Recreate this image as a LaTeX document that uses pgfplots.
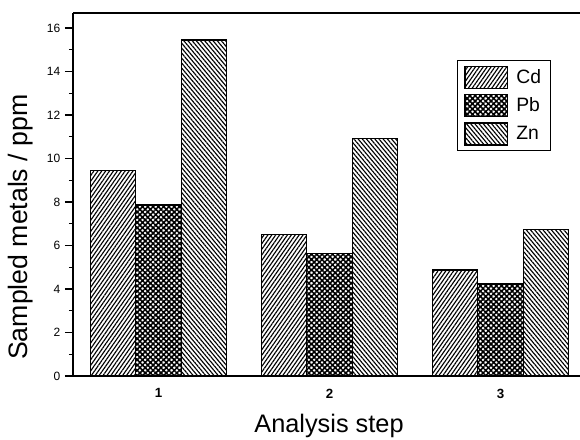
\documentclass[border=0pt]{standalone}
\usepackage{fontspec}
\setmainfont{Liberation Sans}
\usepackage{pgfplots}
\pgfplotsset{compat=1.18}
\usetikzlibrary{patterns.meta}
\begin{document}
\begin{tikzpicture}
\useasboundingbox (-54.75pt,-47.25pt) rectangle (380.25pt,282pt);
\clip (-54.75pt,-47.25pt) rectangle (380.25pt,282pt);
\begin{axis}[
  at={(0,0)}, anchor=south west,
  scale only axis, width=400pt, height=272.25pt,
  xmin=0.5, xmax=3.619, ymin=0, ymax=16.69,
  axis lines*=left,
  axis line style={line width=1.3pt, black},
  ybar=0pt, bar width=0.266,
  /pgf/number format/assume math mode=true,
  ytick={0,2,...,16}, minor y tick num=1,
  ytick align=outside, xtick align=center,
  major tick length=6pt, minor tick length=3pt,
  tick style={line width=0.9pt, black},
  xtick={1,2,3}, xticklabels={1,2,3},
  xtick style={draw=none},
  extra x ticks={1.5,2.5}, extra x tick labels={},
  extra x tick style={tick style={draw=black, line width=0.9pt}},
  yticklabel style={font=\fontsize{9}{10}\selectfont},
  xticklabel style={font=\fontsize{10}{12}\selectfont\bfseries, yshift=-3pt},
  ylabel={Sampled metals / ppm},
  ylabel style={at={(axis description cs:-0.0975,0.41)}, anchor=center, font=\fontsize{20}{24}\selectfont},
  xlabel={Analysis step},
  xlabel style={at={(axis description cs:0.48,-0.138)}, anchor=center, font=\fontsize{19}{22}\selectfont},
  legend image code/.code={\draw[#1] (0pt,-8.25pt) rectangle (32pt,8.25pt);},
  legend style={at={(0.72,0.8705)}, anchor=north west, draw=black, line width=0.8pt,
    font=\fontsize{14.5}{16}\selectfont, inner xsep=5pt, inner ysep=4pt, row sep=3.5pt,
    cells={anchor=west},
    /tikz/every odd column/.append style={column sep=4pt}},
]
\addplot[draw=black, line width=1.1pt, pattern={Lines[angle=55,distance=2.4pt,line width=0.85pt]}, pattern color=black]
  coordinates {(1,9.44) (2,6.51) (3,4.87)};
\addplot[draw=black, line width=1.1pt, pattern={Hatch[angle=45,distance=2.8pt,line width=1.15pt]}, pattern color=black]
  coordinates {(1,7.86) (2,5.64) (3,4.23)};
\addplot[draw=black, line width=1.1pt, pattern={Lines[angle=-50,distance=2.4pt,line width=0.85pt]}, pattern color=black]
  coordinates {(1,15.45) (2,10.93) (3,6.74)};
\legend{Cd,Pb,Zn}
\draw[line width=1.3pt] (rel axis cs:0,1) -- (rel axis cs:1,1);
\end{axis}
\end{tikzpicture}
\end{document}
